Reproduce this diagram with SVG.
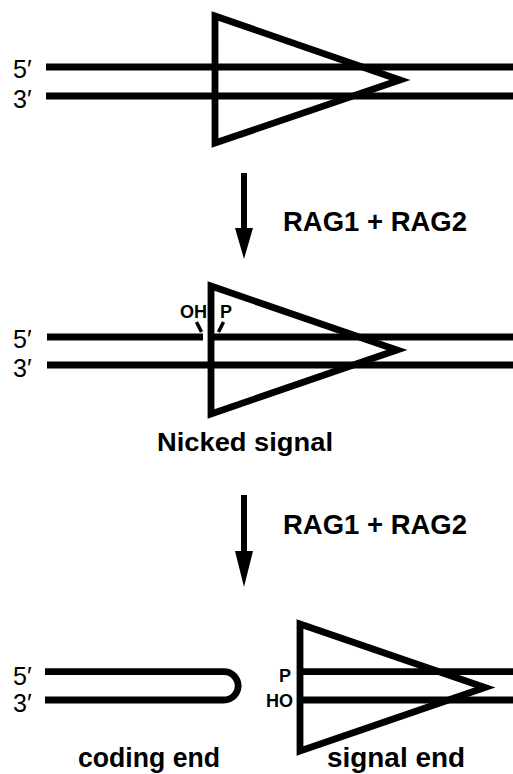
<svg xmlns="http://www.w3.org/2000/svg" width="513" height="774" viewBox="0 0 513 774">
<style>
.s{fill:none;stroke:#000;stroke-width:6.8;stroke-linecap:butt}
.t{fill:none;stroke:#000;stroke-width:6.8;stroke-linejoin:miter;stroke-miterlimit:10}
.tick{fill:none;stroke:#000;stroke-width:3.5}
.lab{font-family:"Liberation Sans","DejaVu Sans",Arial,sans-serif;font-size:25px;fill:#000}
.b{font-family:"Liberation Sans",Arial,sans-serif;font-weight:bold;fill:#000}
</style>
<rect width="513" height="774" fill="#fff"/>
<g id="intact-signal">
<line class="s" x1="46" y1="67" x2="513" y2="67"/>
<line class="s" x1="46" y1="96" x2="513" y2="96"/>
<polygon class="t" points="215,16 400,80 215,143"/>
<text class="lab" x="13" y="78">5′</text>
<text class="lab" x="13" y="108">3′</text>
</g>
<g id="nicked-signal">
<line class="s" x1="47" y1="337" x2="203" y2="337"/>
<line class="s" x1="211" y1="337" x2="513" y2="337"/>
<line class="s" x1="47" y1="365" x2="513" y2="365"/>
<polygon class="t" points="211,286 397,350 211,414"/>
<line class="tick" x1="196.5" y1="322" x2="201.5" y2="332"/>
<line class="tick" x1="223.5" y1="322" x2="218.5" y2="332"/>
<text class="b" x="180" y="318" font-size="18">OH</text>
<text class="b" x="220" y="318" font-size="18">P</text>
<text class="lab" x="13" y="348">5′</text>
<text class="lab" x="13" y="377">3′</text>
<text class="b" x="157" y="451" font-size="26" textLength="176" lengthAdjust="spacingAndGlyphs">Nicked signal</text>
</g>
<g id="coding-end">
<path class="s" d="M45,671.7 H224 A14.15,14.15 0 0 1 224,700 H45"/>
<text class="lab" x="13" y="685">5′</text>
<text class="lab" x="13" y="712">3′</text>
<text class="b" x="78" y="767" font-size="27" textLength="142" lengthAdjust="spacingAndGlyphs">coding end</text>
</g>
<g id="signal-end">
<line class="s" x1="300" y1="671.7" x2="513" y2="671.7"/>
<line class="s" x1="300" y1="700" x2="513" y2="700"/>
<polygon class="t" points="300,624 485,687.5 300,751"/>
<text class="b" x="279" y="682" font-size="18">P</text>
<text class="b" x="266" y="707" font-size="18">HO</text>
<text class="b" x="327" y="767" font-size="27" textLength="138" lengthAdjust="spacingAndGlyphs">signal end</text>
</g>
<g id="connectors">
<line x1="244" y1="173" x2="244" y2="230" stroke="#000" stroke-width="6"/>
<polygon points="235,228 253,228 244,259" fill="#000"/>
<text class="b" x="283" y="231" font-size="28" textLength="184" lengthAdjust="spacingAndGlyphs">RAG1 + RAG2</text>
<line x1="244" y1="495" x2="244" y2="553" stroke="#000" stroke-width="6"/>
<polygon points="235,551 253,551 244,587" fill="#000"/>
<text class="b" x="283" y="534" font-size="28" textLength="184" lengthAdjust="spacingAndGlyphs">RAG1 + RAG2</text>
</g>
</svg>
